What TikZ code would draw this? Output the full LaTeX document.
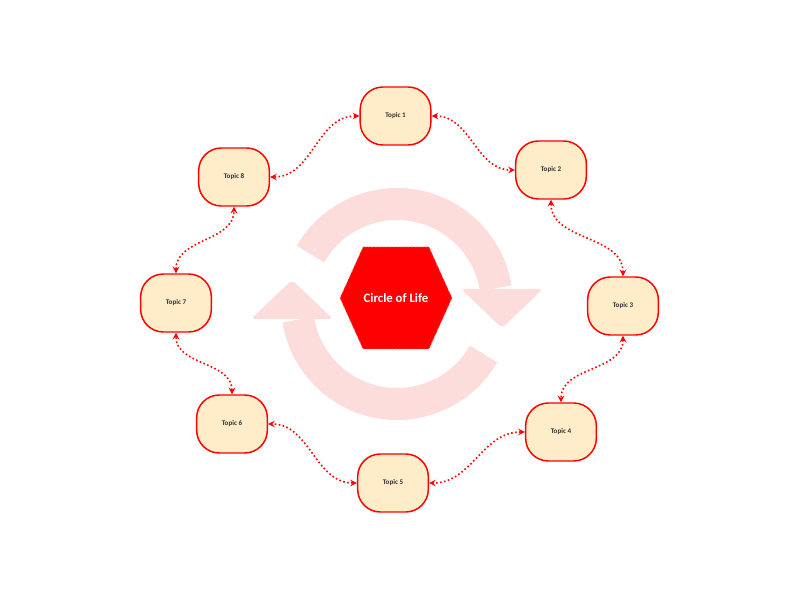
\documentclass[tikz,border=0pt]{standalone}
\usepackage{fontspec}
\setmainfont{Carlito}
\definecolor{topicfill}{HTML}{FFECC8}
\definecolor{ringpink}{HTML}{FDDCDC}
\definecolor{topictext}{HTML}{333333}
\begin{document}
\begin{tikzpicture}[>=stealth, x=.75pt, y=.75pt,
	topic/.style={draw=red, line width=1.1pt, fill=topicfill, rounded corners=17pt,
		minimum width=53pt, minimum height=43.5pt, text=topictext,
		font=\bfseries\fontsize{5.3}{6}\selectfont},
	link/.style={<->, red, line width=1.2pt, dash pattern=on 1.2pt off 1.8pt}]
	\useasboundingbox (0,0) rectangle (800,600);
	% ring of two arrows
	\begin{scope}[shift={(397,296)}, ringpink]
		\draw[line width=24pt] (150:100) arc (150:9:100);
		\fill[rounded corners=3pt] (64,15)--(146,15)--(105,-24)--cycle;
		\draw[line width=24pt] (-30:100) arc (-30:-171:100);
		\fill[rounded corners=3pt] (-64,-15)--(-146,-15)--(-105,24)--cycle;
	\end{scope}
	% hexagon
	\filldraw[shift={(396,302)}, fill=red, draw=red!45!white, line width=.7pt, dotted]
		(-56,0)--(-33,51)--(33,51)--(56,0)--(33,-51)--(-33,-51)--cycle;
	\node (life) at (396,302) [text=white, font=\bfseries\fontsize{9.6}{11}\selectfont]{Circle of Life};
	% topics
	\node[topic] (t1) at (395.5,484) {Topic 1};
	\node[topic] (t2) at (551,430) {Topic 2};
	\node[topic] (t3) at (623,294) {Topic 3};
	\node[topic] (t4) at (561,168) {Topic 4};
	\node[topic] (t5) at (393,117) {Topic 5};
	\node[topic] (t6) at (232,176) {Topic 6};
	\node[topic] (t7) at (176,297) {Topic 7};
	\node[topic] (t8) at (234,423) {Topic 8};
	\draw[link] (t1.west) to[out=180, in=0] (t8.east);
	\draw[link] (t1.east) to[out=0, in=180] (t2.west);
	\draw[link] (t2.south) to[out=-90, in=90] (t3.north);
	\draw[link] (t3.south) to[out=-90, in=90] (t4.north);
	\draw[link] (t4.west) to[out=180, in=0] (t5.east);
	\draw[link] (t5.west) to[out=180, in=0] (t6.east);
	\draw[link] (t6.north) to[out=90, in=-90] (t7.south);
	\draw[link] (t7.north) to[out=90, in=-90] (t8.south);
\end{tikzpicture}
\end{document}
